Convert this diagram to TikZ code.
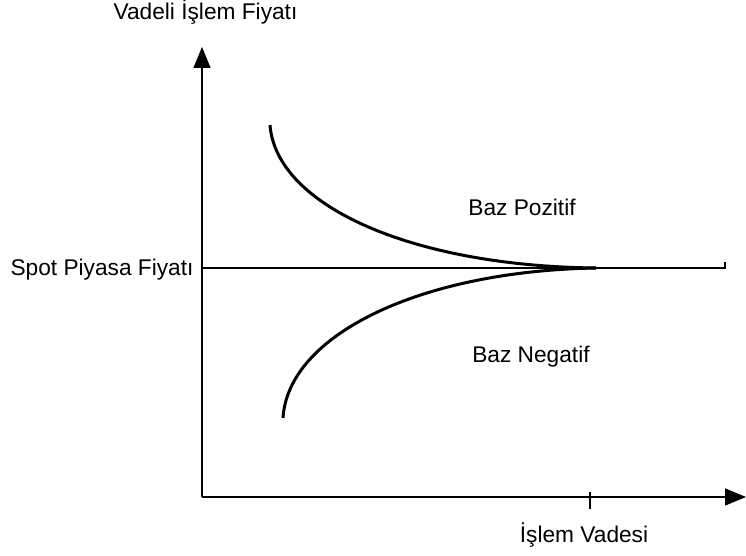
\documentclass[tikz,border=0pt]{standalone}
\usepackage{fontspec}
\setmainfont{Liberation Sans}
\usetikzlibrary{arrows.meta, positioning}

\begin{document}
\begin{tikzpicture}[
        x=1pt, y=-1pt,
        lbl/.style={font=\fontsize{22.7}{27}\selectfont, inner sep=0pt, anchor=base},
        axis/.style={line width=1.4pt, -{Triangle[length=21pt, width=17pt]}},
        thinline/.style={line width=1.3pt},
        basis/.style={line width=3pt}
    ]
    \useasboundingbox (0,0) rectangle (746,556);

    % --- Axes ---
    \coordinate (origin) at (202,497);
    \coordinate (ytip) at (202,47);
    \coordinate (xtip) at (746,497);
    \draw[axis] (origin) -- (ytip);
    \draw[axis] (origin) -- (xtip);
    \coordinate (mat) at (590,497);
    \draw[thinline] ([yshift=-12pt]mat) -- ([yshift=5pt]mat);

    % --- Spot price line ---
    \coordinate (spotL) at (202,268);
    \coordinate (spotR) at (725,268);
    \draw[thinline] (spotL) -- (spotR) -- ++(0,-6);

    % --- Basis curves ---
    \coordinate (meet) at (596,268);
    \coordinate (upstart) at (270,125);
    \coordinate (lowstart) at (283,418);
    \draw[basis] (upstart) .. controls (276,205) and (410,266) .. (meet);
    \draw[basis] (lowstart) .. controls (288,335) and (420,271) .. (meet);

    % --- Labels ---
    \node[lbl] (ylab) at (205.5,20) {Vadeli İşlem Fiyatı};
    \node[lbl] (spot) at (102,275) {Spot Piyasa Fiyatı};
    \node[lbl] (pos) at (522,215) {Baz Pozitif};
    \node[lbl] (neg) at (531,362) {Baz Negatif};
    \node[lbl] (xlab) at (584,542) {İşlem Vadesi};

\end{tikzpicture}
\end{document}
